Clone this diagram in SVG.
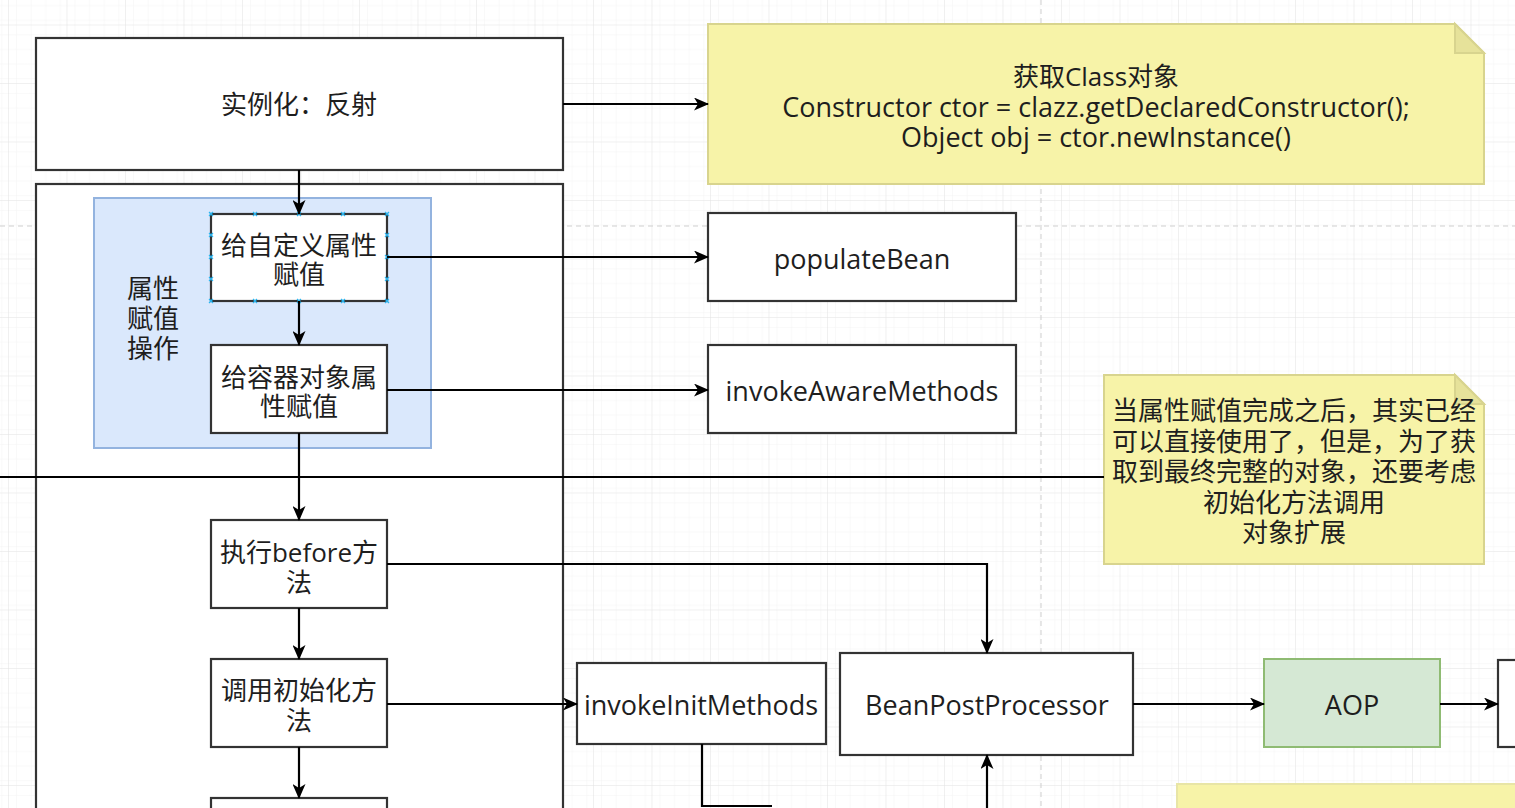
<svg xmlns="http://www.w3.org/2000/svg" width="1515" height="808" viewBox="0 0 1515 808">
<defs>
<pattern id="minor" width="14.625" height="14.625" patternUnits="userSpaceOnUse" x="8" y="24.5">
<path d="M0,0 H14.625 M0,0 V14.625" fill="none" stroke="#f3f3f3" stroke-width="1"/>
</pattern>
<pattern id="major" width="58.5" height="58.5" patternUnits="userSpaceOnUse" x="8" y="24.5">
<rect width="58.5" height="58.5" fill="url(#minor)"/>
<path d="M0,0 H58.5 M0,0 V58.5" fill="none" stroke="#e2e2e2" stroke-width="1"/>
</pattern>
<marker id="arr" viewBox="0 0 15 13" refX="14" refY="6.5" markerWidth="15" markerHeight="13" markerUnits="userSpaceOnUse" orient="auto">
<path d="M0,0 L15,6.5 L0,13 L4,6.5 Z" fill="#000"/>
</marker>
<style>
.box{fill:#fff;stroke:#333;stroke-width:2.2}
.t{font-family:"Open Sans","Noto Sans CJK SC",sans-serif;font-size:26px;fill:#1e1e1e;text-anchor:middle;dominant-baseline:central}
.l{font-size:27px}
.note{fill:#f7f3a8;stroke:#d8d48e;stroke-width:2}
.fold{fill:#e6e29a;stroke:#d8d48e;stroke-width:2}
.c{fill:none;stroke:#000;stroke-width:2.2}
.ca{fill:none;stroke:#000;stroke-width:2.2;marker-end:url(#arr)}
.h{stroke:#29b6f2;stroke-width:1.2}
</style>
</defs>
<rect width="1515" height="808" fill="#fff"/>
<rect width="1515" height="808" fill="url(#major)"/>
<path d="M0,226 H1515 M1041,0 V808" stroke="#cfcfcf" stroke-width="1" stroke-dasharray="5,4" fill="none"/>

<g id="instantiate">
<rect class="box" x="36" y="38" width="527" height="132"/>
<text class="t" x="299" y="104">实例化：反射</text>
</g>

<g id="note1">
<path class="note" d="M708,24 H1455 L1484,53 V184 H708 Z"/>
<path class="fold" d="M1455,24 V53 H1484 Z"/>
<text class="t" x="1096" y="76">获取Class对象</text>
<text class="t l" x="1096" y="106">Constructor ctor = clazz.getDeclaredConstructor();</text>
<text class="t l" x="1096" y="136">Object obj = ctor.newInstance()</text>
</g>

<g id="container">
<rect class="box" x="36" y="184" width="527" height="700"/>
</g>

<g id="attr-group">
<rect x="94" y="198" width="337" height="250" fill="#dae8fc" stroke="#93b3df" stroke-width="2"/>
<text class="t" x="153" y="288">属性</text>
<text class="t" x="153" y="318">赋值</text>
<text class="t" x="153" y="348">操作</text>
</g>

<g id="custom-attr">
<rect class="box" x="211" y="214" width="176" height="87"/>
<text class="t" x="299" y="245">给自定义属性</text>
<text class="t" x="299" y="274">赋值</text>
<g class="h">
<path d="M209,212 l4,4 M213,212 l-4,4 M253,212 l4,4 M257,212 l-4,4 M297,212 l4,4 M301,212 l-4,4 M341,212 l4,4 M345,212 l-4,4 M385,212 l4,4 M389,212 l-4,4"/>
<path d="M209,299 l4,4 M213,299 l-4,4 M253,299 l4,4 M257,299 l-4,4 M297,299 l4,4 M301,299 l-4,4 M341,299 l4,4 M345,299 l-4,4 M385,299 l4,4 M389,299 l-4,4"/>
<path d="M209,233 l4,4 M213,233 l-4,4 M209,255 l4,4 M213,255 l-4,4 M209,277 l4,4 M213,277 l-4,4"/>
<path d="M385,233 l4,4 M389,233 l-4,4 M385,255 l4,4 M389,255 l-4,4 M385,277 l4,4 M389,277 l-4,4"/>
</g>
</g>

<g id="container-attr">
<rect class="box" x="211" y="345" width="176" height="88"/>
<text class="t" x="299" y="377">给容器对象属</text>
<text class="t" x="299" y="406">性赋值</text>
</g>

<g id="populateBean">
<rect class="box" x="708" y="213" width="308" height="88"/>
<text class="t l" x="862" y="258">populateBean</text>
</g>

<g id="invokeAwareMethods">
<rect class="box" x="708" y="345" width="308" height="88"/>
<text class="t l" x="862" y="390">invokeAwareMethods</text>
</g>

<g id="note2">
<path class="note" d="M1104,375 H1455 L1484,404 V564 H1104 Z"/>
<path class="fold" d="M1455,375 V404 H1484 Z"/>
<text class="t" x="1294" y="410">当属性赋值完成之后，其实已经</text>
<text class="t" x="1294" y="441">可以直接使用了，但是，为了获</text>
<text class="t" x="1294" y="471">取到最终完整的对象，还要考虑</text>
<text class="t" x="1294" y="502">初始化方法调用</text>
<text class="t" x="1294" y="532">对象扩展</text>
</g>

<g id="before">
<rect class="box" x="211" y="520" width="176" height="88"/>
<text class="t" x="299" y="552">执行before方</text>
<text class="t" x="299" y="582">法</text>
</g>

<g id="init">
<rect class="box" x="211" y="659" width="176" height="88"/>
<text class="t" x="299" y="690">调用初始化方</text>
<text class="t" x="299" y="720">法</text>
</g>

<g id="next-step">
<rect class="box" x="211" y="798" width="176" height="40"/>
</g>

<g id="invokeInitMethods">
<rect class="box" x="577" y="663" width="249" height="81"/>
<text class="t l" x="701" y="704">invokeInitMethods</text>
</g>

<g id="beanPostProcessor">
<rect class="box" x="840" y="653" width="293" height="102"/>
<text class="t l" x="987" y="704">BeanPostProcessor</text>
</g>

<g id="aop">
<rect x="1264" y="659" width="176" height="88" fill="#d5e8d4" stroke="#8fbb73" stroke-width="2"/>
<text class="t l" x="1352" y="704">AOP</text>
</g>

<g id="right-box">
<rect class="box" x="1498" y="660" width="60" height="87"/>
</g>

<g id="note3">
<rect x="1177" y="784" width="350" height="40" fill="#f7f3a8" stroke="#e8e5a6" stroke-width="2"/>
</g>

<g id="connectors">
<path class="ca" d="M563,104 H708"/>
<path class="ca" d="M299,170 V214"/>
<path class="ca" d="M387,257 H708"/>
<path class="ca" d="M299,301 V345"/>
<path class="ca" d="M387,390 H708"/>
<path class="ca" d="M299,433 V520"/>
<path class="c" d="M0,477 H1104"/>
<path class="ca" d="M387,564 H987 V653"/>
<path class="ca" d="M299,608 V659"/>
<path class="ca" d="M387,704 H577"/>
<path class="ca" d="M299,747 V798"/>
<path class="ca" d="M1133,704 H1264"/>
<path class="ca" d="M1440,704 H1498"/>
<path class="c" d="M702,744 V806 H772"/>
<path class="ca" d="M987,820 V755"/>
</g>
</svg>
